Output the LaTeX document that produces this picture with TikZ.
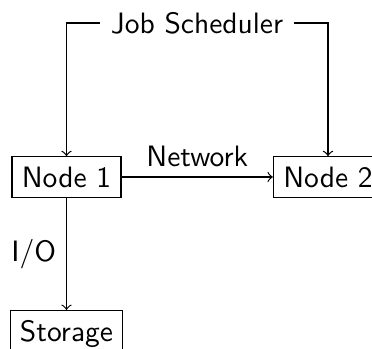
\documentclass[tikz,border=0pt]{standalone}
\begin{document}
\begin{tikzpicture}[x=0.339pt,y=-0.339pt,font=\sffamily,
  box/.style={draw,rectangle},
  conn/.style={->}]
\useasboundingbox (0,0) rectangle (372,349);
\node (js) at (197,23) {Job Scheduler};
\node[box] (n1) at (66.5,177) {Node 1};
\node[box] (n2) at (328,177) {Node 2};
\node[box,anchor=north] (st) at (66.5,310) {Storage};
\draw[conn] (js.west) -| (n1.north);
\draw[conn] (js.east) -| (n2.north);
\draw[conn] (n1) -- node[above] {Network} (n2);
\draw[conn] (n1) -- node[left] {I/O} (st);
\end{tikzpicture}
\end{document}
